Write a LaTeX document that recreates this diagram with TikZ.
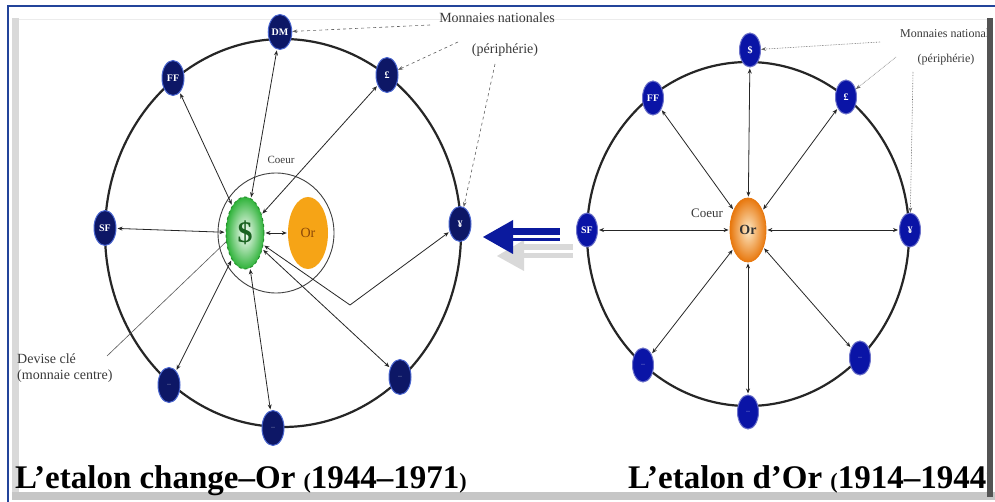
\documentclass[tikz,border=0pt]{standalone}
\usepackage{fontspec}
\setmainfont{Liberation Serif}
\usepackage{xcolor}
\usetikzlibrary{arrows.meta,shapes.geometric}
\definecolor{pnavy}{HTML}{0D1766}
\definecolor{proyal}{HTML}{0A14A6}
\definecolor{pedge}{HTML}{4A66D0}
\definecolor{pframe}{HTML}{23449A}
\definecolor{pgreen}{HTML}{2FB33A}
\definecolor{porange}{HTML}{F6A416}
\definecolor{pdeep}{HTML}{E8780E}
\definecolor{parrow}{HTML}{0B1A9E}
\definecolor{ptext}{HTML}{3A3A3A}

\begin{document}
\begin{tikzpicture}[x=1pt,y=-1pt,
    font=\small,
    cur/.style={ellipse,draw=pedge,fill=pnavy,line width=1pt,text=white,
                inner sep=0pt,minimum width=22pt,minimum height=35pt,
                font=\fontsize{10}{10}\selectfont\bfseries},
    curb/.style={cur,fill=proyal,draw=proyal!60!white,
                 minimum width=21pt,minimum height=34pt},
    dots/.style={font=\fontsize{4}{4}\selectfont},
    ring/.style={line width=2.2pt,black!85},
    arr2/.style={{Stealth[length=5pt,width=4pt]}-{Stealth[length=5pt,width=4pt]},
                 line width=0.8pt,black!85,shorten <=1pt,shorten >=1pt},
    ptr/.style={-{Stealth[length=5pt,width=3.5pt]},dashed,gray!75!black,line width=0.6pt},
    lbl/.style={font=\fontsize{14}{16}\selectfont,ptext,inner sep=1pt},
    ttl/.style={font=\fontsize{33}{33}\selectfont\bfseries,anchor=base west,inner sep=0pt}
  ]
    \useasboundingbox (0,0) rectangle (995,502);
    \fill[white] (0,0) rectangle (995,502);

    % Frame
    \fill[gray!30] (12,18) rectangle (19,496);
    \draw[gray!15,line width=1pt] (19,20) -- (988,20);
    \fill[gray!45] (12,492) rectangle (995,500);
    \fill[gray!65!black] (987,18) rectangle (993,497);
    \draw[pframe,line width=2pt] (995,6) -- (8,6) -- (8,502);

    % Left picture: rings
    \draw[ring] (283,233) ellipse [x radius=178,y radius=194];
    \draw[black!75,line width=0.9pt] (276,233) ellipse [x radius=58,y radius=60];

    % Left picture: currencies
    \node[cur] (dm)  at (280,32)  {DM};
    \node[cur] (ff)  at (173,78)  {FF};
    \node[cur] (gbp) at (387,75)  {£};
    \node[cur] (sf)  at (105,228) {SF};
    \node[cur] (jpy) at (460,224) {¥};
    \node[cur,dots] (ba) at (169,385) {---};
    \node[cur,dots] (bb) at (273,428) {---};
    \node[cur,dots] (bc) at (400,377) {---};

    \node[ellipse,draw=pgreen!80!black,dashed,line width=1pt,
          inner color=white,outer color=pgreen,
          minimum width=38pt,minimum height=72pt,inner sep=0pt,
          font=\fontsize{30}{30}\selectfont\bfseries,text=pgreen!55!black]
      (usd) at (245,233) {\$};
    \node[ellipse,fill=porange,minimum width=40pt,minimum height=72pt,
          inner sep=0pt,font=\fontsize{14}{14}\selectfont,text=pdeep!60!black]
      (orl) at (308,233) {Or};
    \node[font=\fontsize{11}{11}\selectfont,ptext] (cl) at (281,160) {Coeur};

    % Arrows
    \draw[arr2] (usd) -- (sf);
    \draw[arr2] (usd) -- (ff);
    \draw[arr2] (usd) -- (dm);
    \draw[arr2] (usd) -- (gbp);
    \draw[arr2] (usd) -- (orl);
    \draw[arr2] (usd) -- (ba);
    \draw[arr2] (usd) -- (bb);
    \draw[arr2] (usd) -- (bc);
    \coordinate (kink) at (350,305);
    \draw[arr2] (usd.-33) -- (kink) -- (jpy);

    % Notes
    \node[lbl,align=left,anchor=west] (dev) at (16,368) {Devise clé\\(monnaie centre)};
    \coordinate (devp) at (107,356);
    \draw[gray!70!black,line width=0.6pt] (devp) -- (usd.205);
    \node[lbl] (mnl) at (497,18) {Monnaies nationales};
    \node[lbl] (perl) at (505,50) {(périphérie)};
    \coordinate (pa) at (430,25);
    \coordinate (pb) at (458,42);
    \coordinate (pc) at (495,64);
    \draw[ptr] (pa) -- (dm);
    \draw[ptr] (pb) -- (gbp);
    \draw[ptr] (pc) -- (jpy);

    % Middle arrow
    \fill[gray!30] (497,256) -- (524,240) -- (524,271) -- cycle;
    \fill[gray!30] (522,244) rectangle (573,250);
    \fill[gray!30] (522,253) rectangle (573,258);
    \fill[parrow] (483,237) -- (513,220) -- (513,254) -- cycle;
    \fill[parrow] (511,228) rectangle (560,235);
    \fill[parrow] (511,238) rectangle (560,241);

    % Right picture
    \draw[ring] (748,234) ellipse [x radius=161,y radius=172];
    \node[curb] (usdr) at (750,50)  {\$};
    \node[curb] (ffr)  at (653,98)  {FF};
    \node[curb] (gbpr) at (846,97)  {£};
    \node[curb] (sfr)  at (587,230) {SF};
    \node[curb] (jpyr) at (910,230) {¥};
    \node[curb,dots] (ca) at (643,365) {---};
    \node[curb,dots] (cb) at (748,412) {---};
    \node[curb,dots] (cc) at (860,358) {---};
    \node[ellipse,draw=pdeep,line width=0.8pt,inner color=porange!25,outer color=pdeep,
          minimum width=36pt,minimum height=64pt,inner sep=0pt,
          font=\fontsize{14}{14}\selectfont\bfseries,text=black!80]
      (orr) at (748,230) {Or};
    \node[font=\fontsize{13}{13}\selectfont,ptext] (cr) at (707,213) {Coeur};

    \foreach \c in {usdr,ffr,gbpr,sfr,jpyr,ca,cb,cc}
      \draw[arr2] (orr) -- (\c);

    \node[lbl,font=\fontsize{12}{14}\selectfont] (perr) at (946,60) {(périphérie)};
    \coordinate (qa) at (880,42);
    \coordinate (qb) at (896,57);
    \coordinate (qc) at (913,72);
    \draw[ptr,densely dotted] (qa) -- (usdr);
    \draw[ptr,densely dotted] (qb) -- (gbpr);
    \draw[ptr,densely dotted] (qc) -- (jpyr);

    % Titles (cut by the frame on the right)
    \begin{scope}
      \clip (0,0) rectangle (987,502);
      \node[lbl,font=\fontsize{12}{14}\selectfont,anchor=west] (mnr) at (899,33) {Monnaies nationales};
      \node[ttl] (tl) at (15,488)
        {L’etalon change–Or {\fontsize{22}{22}\selectfont(}1944–1971{\fontsize{22}{22}\selectfont)}};
      \node[ttl] (tr) at (628,488)
        {L’etalon d’Or {\fontsize{22}{22}\selectfont(}1914–1944{\fontsize{22}{22}\selectfont)}};
    \end{scope}
    \fill[gray!65!black] (987,18) rectangle (993,497);
\end{tikzpicture}
\end{document}
